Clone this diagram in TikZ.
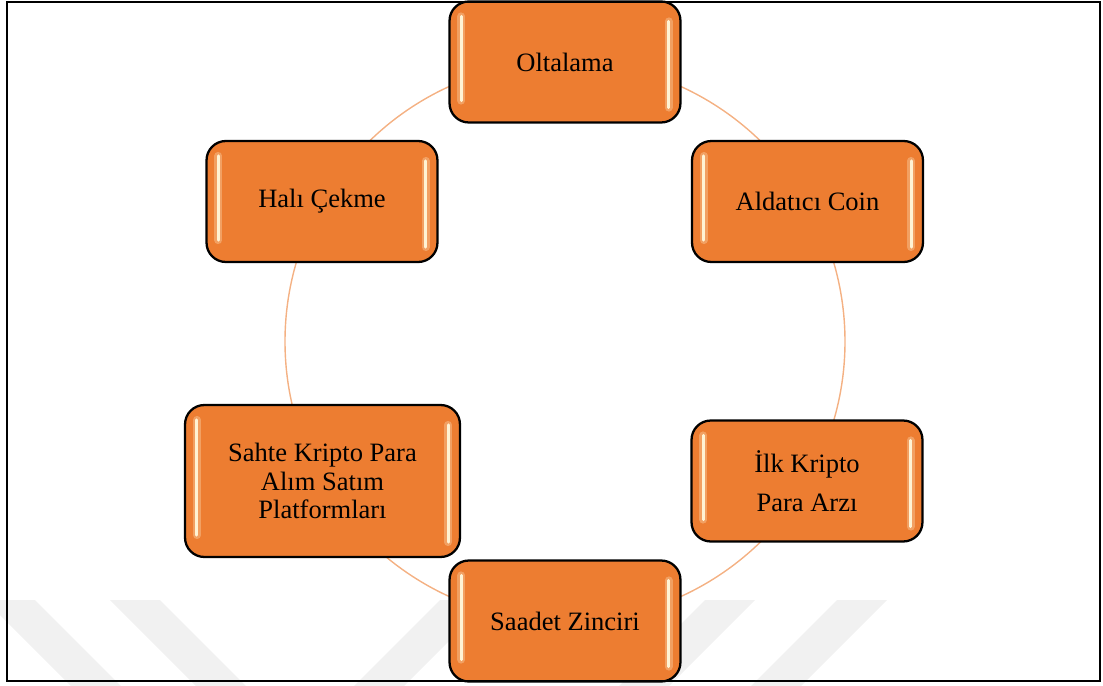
\documentclass[tikz,border=0pt]{standalone}
\usepackage{fontspec}
\setmainfont{Liberation Serif}
\usetikzlibrary{calc}
\definecolor{boxorange}{HTML}{ED7D31}
\definecolor{ringorange}{HTML}{F4B183}
\definecolor{shine}{HTML}{FFF3D4}
\definecolor{markgray}{HTML}{F1F1F1}
\begin{document}
\begin{tikzpicture}[
x=0.02cm,y=-0.02cm,
scam/.style={draw=black,line width=1.3pt,fill=boxorange,rounded corners=11pt,
  minimum width=4.62cm,minimum height=2.42cm,align=center,inner sep=0pt,
  font=\fontsize{15.1}{16.2}\selectfont},
bigscam/.style={scam,minimum width=5.5cm,minimum height=3.04cm},
glow/.style={line cap=round,line width=4.5pt,color=shine,opacity=0.3},
core/.style={line cap=round,line width=1.8pt,color=shine}
]
\useasboundingbox (0,0) rectangle (1103,686);
% watermark
\fill[markgray] (-15,600) -- (35,600) -- (121,686) -- (71,686) -- cycle;
\fill[markgray] (110,600) -- (160,600) -- (246,686) -- (196,686) -- cycle;
\fill[markgray] (440,600) -- (490,600) -- (404,686) -- (354,686) -- cycle;
\fill[markgray] (705,600) -- (755,600) -- (669,686) -- (619,686) -- cycle;
\fill[markgray] (837,600) -- (887,600) -- (801,686) -- (751,686) -- cycle;
% ring
\draw[ringorange,line width=0.8pt] (565,341.5) circle[radius=280];
% boxes
\node[scam] (olta) at (565,62) {Oltalama};
\node[scam] (coin) at (807.5,201.5) {Aldatıcı Coin};
\node[scam,font=\fontsize{15.1}{22.1}\selectfont] (ilk) at (807,481) {İlk Kripto\\Para Arzı};
\node[scam] (saadet) at (565,621) {Saadet Zinciri};
\node[bigscam] (sahte) at (322.5,481) {Sahte Kripto Para\\Alım Satım\\Platformları};
\node[scam] (hali) at (322,201.5) {Halı Çekme};
\foreach \n in {olta,coin,ilk,saadet,sahte,hali}{
  \draw[glow] ($(\n.north west)+(13,16)$) -- ($(\n.south west)+(13,-23)$);
  \draw[core] ($(\n.north west)+(13,16)$) -- ($(\n.south west)+(13,-23)$);
  \draw[glow] ($(\n.north east)+(-13,21)$) -- ($(\n.south east)+(-13,-16)$);
  \draw[core] ($(\n.north east)+(-13,21)$) -- ($(\n.south east)+(-13,-16)$);
}
% frame
\draw[line width=1.5pt] (7,2) rectangle (1100,681);
\end{tikzpicture}
\end{document}
